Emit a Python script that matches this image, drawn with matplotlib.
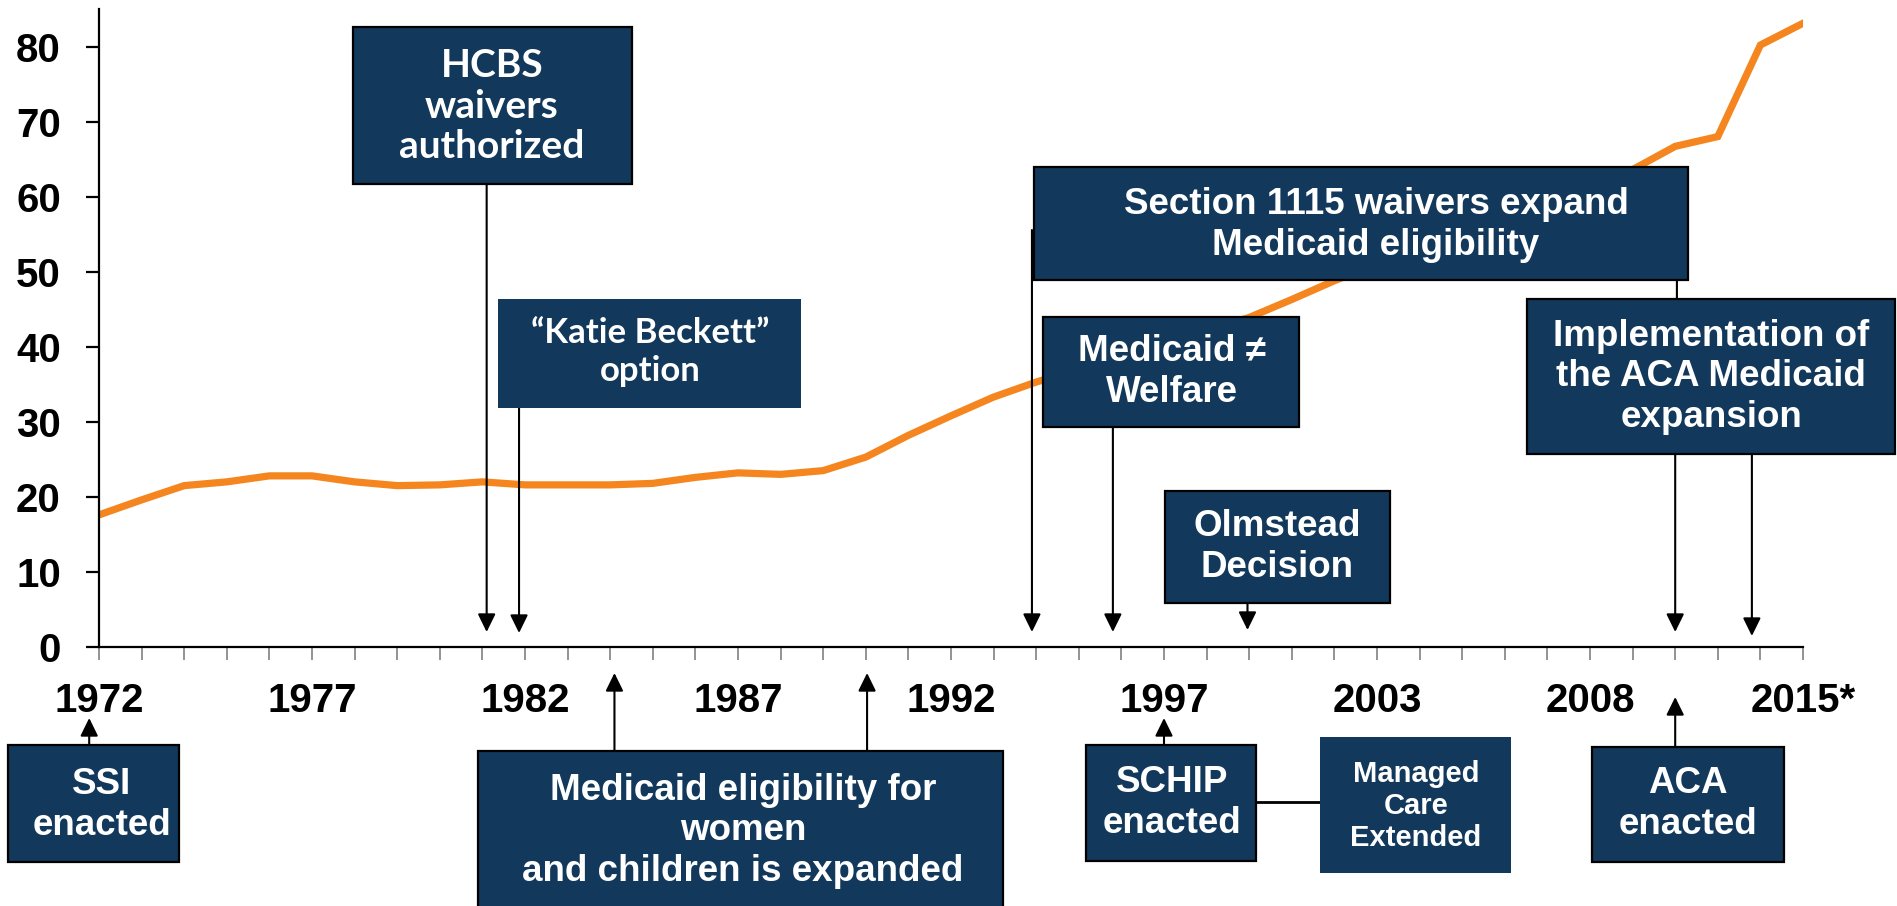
import matplotlib
matplotlib.use("Agg")
import matplotlib.pyplot as plt
from matplotlib.patches import Rectangle

# enrollment (millions) by year, category axis
years = ["1972", "1973", "1974", "1975", "1976", "1977", "1978", "1979", "1980", "1981",
         "1982", "1983", "1984", "1985", "1986", "1987", "1988", "1989", "1990", "1991",
         "1992", "1993", "1994", "1995", "1996", "1997", "1998", "1999", "2000", "2001",
         "2003", "2004", "2005", "2006", "2007", "2008", "2009", "2010", "2013", "2014",
         "2015*"]
enrollment = [17.6, 19.6, 21.5, 22.0, 22.8, 22.8, 22.0, 21.5, 21.6, 22.0,
              21.6, 21.6, 21.6, 21.8, 22.6, 23.2, 23.0, 23.5, 25.3, 28.2,
              30.8, 33.3, 35.3, 37.0, 38.8, 40.5, 42.2, 43.9, 46.3, 48.8,
              51.0, 53.2, 55.3, 57.4, 59.5, 61.5, 63.6, 66.7, 68.0, 80.2,
              83.1]

W, H = 1897, 906
NAVY = "#12395C"
ORANGE = "#F5861F"
ARIAL = ["Liberation Sans", "DejaVu Sans"]
CALIBRI = ["Lato", "DejaVu Sans"]

fig = plt.figure(figsize=(W / 100, H / 100), dpi=100)
ax = fig.add_axes([99 / W, 1 - 647 / H, (1803 - 99) / W, (647 - 9) / H])

x = list(range(len(years)))
ax.plot(x, enrollment, color=ORANGE, lw=5.2, solid_joinstyle="miter", zorder=2)

ax.set_xlim(0, len(years) - 1)
ax.set_ylim(0, 85)
ax.set_yticks(range(0, 81, 10))
ax.set_xticks(x)
ax.set_xticklabels([y if i % 5 == 0 else "" for i, y in enumerate(years)])
for s in ["top", "right"]:
    ax.spines[s].set_visible(False)
for s in ["left", "bottom"]:
    ax.spines[s].set_linewidth(1.6)
ax.tick_params(axis="y", length=9.5, width=1.6, pad=18, labelsize=29)
ax.tick_params(axis="x", length=9, width=1.2, color="#808080", pad=16, labelsize=29)
for lab in ax.get_xticklabels() + ax.get_yticklabels():
    lab.set_fontweight("bold")
    lab.set_family(ARIAL)


def fy(py):
    return 1 - py / H


def box(x0, y0, x1, y1, text, tx, ty, size=26.5, fam=ARIAL, border=True):
    r = Rectangle((x0 / W, fy(y1)), (x1 - x0) / W, (y1 - y0) / H,
                  transform=fig.transFigure, facecolor=NAVY,
                  edgecolor="black" if border else NAVY,
                  linewidth=1.6 if border else 0, zorder=5)
    fig.add_artist(r)
    fig.text(tx / W, fy(ty), text, ha="center", va="center", color="white",
             fontsize=size, fontweight="bold", family=fam, linespacing=1.2,
             zorder=6)


def arrow(xi, y_from, y_to, head=True):
    ax.annotate("", xy=(xi, fy(y_to)), xytext=(xi, fy(y_from)),
                xycoords=("data", "figure fraction"),
                textcoords=("data", "figure fraction"),
                annotation_clip=False,
                arrowprops=dict(arrowstyle="-|>,head_length=0.55,head_width=0.27" if head else "-",
                                mutation_scale=20, color="black", lw=1.5,
                                shrinkA=0, shrinkB=0),
                zorder=4)


# arrows pointing down to the axis
arrow(9.1, 184, 632)
arrow(9.86, 408, 633)
arrow(21.9, 230, 632)
arrow(23.8, 427, 632)
arrow(26.96, 603, 630)
arrow(37.04, 280, 300, head=False)
arrow(37.0, 454, 632)
arrow(38.8, 454, 636)
# arrows pointing up from the lower boxes
arrow(-0.23, 745, 718)
arrow(12.1, 751, 673)
arrow(18.03, 751, 673)
arrow(25.0, 745, 718)
arrow(37.0, 747, 697)

# connector SCHIP -> Managed Care
fig.add_artist(plt.Line2D([1256 / W, 1320 / W], [fy(802), fy(802)],
                          transform=fig.transFigure, color="black", lw=2, zorder=4))

box(353, 27, 632, 184, "HCBS\nwaivers\nauthorized", 492, 106, size=28, fam=CALIBRI)
box(498, 299, 801, 408, "\u201cKatie Beckett\u201d\noption", 650, 352, size=25, fam=CALIBRI, border=False)
box(1034, 167, 1688, 280, "Section 1115 waivers expand\nMedicaid eligibility", 1376, 225)
box(1043, 317, 1299, 427, "Medicaid \u2260\nWelfare", 1172, 372)
box(1165, 491, 1390, 603, "Olmstead\nDecision", 1277, 547)
box(1527, 299, 1895, 454, "Implementation of\nthe ACA Medicaid\nexpansion", 1711, 377)
box(8, 745, 179, 862, "SSI\nenacted", 102, 805)
box(478, 751, 1003, 912, "Medicaid eligibility for\nwomen\nand children is expanded", 743, 831)
box(1086, 745, 1256, 861, "SCHIP\nenacted", 1172, 803)
box(1320, 737, 1511, 873, "Managed\nCare\nExtended", 1416, 806, size=21, border=False)
box(1592, 747, 1784, 862, "ACA\nenacted", 1688, 804)

fig.savefig("out.png", dpi=100)
